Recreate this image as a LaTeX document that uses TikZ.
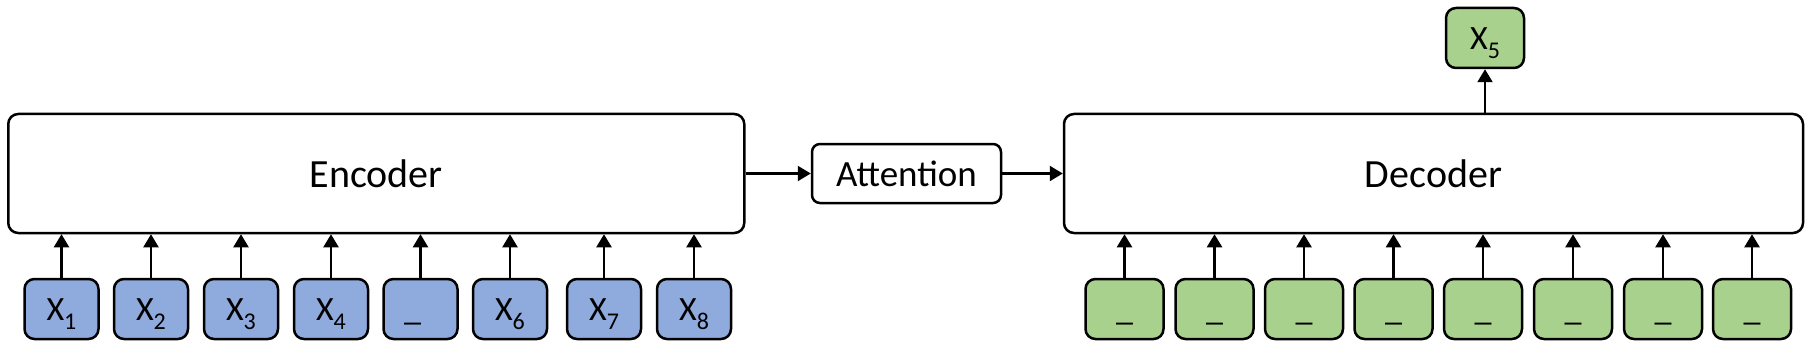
\documentclass[tikz,border=0pt]{standalone}
\usepackage{fontspec}
\setmainfont{Carlito}
\usetikzlibrary{arrows.meta}
\definecolor{inblue}{HTML}{8FAADC}
\definecolor{ingreen}{HTML}{A9D18E}
\newcommand{\xsub}[1]{X\raisebox{-9pt}{\fontsize{24}{24}\selectfont #1}}
\tikzset{
  bigbox/.style={draw=black, line width=2.5pt, rounded corners=10pt, fill=white, inner sep=0pt,
     font=\fontsize{40}{48}\selectfont},
  attbox/.style={draw=black, line width=2.5pt, rounded corners=8pt, fill=white, inner sep=0pt,
     minimum width=189pt, minimum height=59pt, font=\fontsize{37}{40}\selectfont},
  tokbox/.style={draw=black, line width=2.5pt, rounded corners=10pt, inner sep=0pt,
     minimum height=60pt, text height=23pt, text depth=0pt, font=\fontsize{34}{38}\selectfont},
  encin/.style={tokbox, fill=inblue, minimum width=74pt},
  decin/.style={tokbox, fill=ingreen, minimum width=78pt},
  arr/.style={line width=2.2pt, -{Triangle[width=15pt,length=13pt]}}
}
\begin{document}
\begin{tikzpicture}[x=1pt,y=-1pt]
\useasboundingbox (0,0) rectangle (1811,350);
% main blocks
\node[bigbox, minimum width=736pt, minimum height=119pt] (enc) at (376.25,173.5) {Encoder};
\node[attbox] (att) at (906.5,173.5) {Attention};
\node[bigbox, minimum width=739pt, minimum height=119pt] (dec) at (1433.5,173.5) {Decoder};
\node[decin] (out) at (1485,38) {\xsub{5}};
% encoder inputs
\node[encin] (e1) at (61.5,309) {\xsub{1}};
\node[encin] (e2) at (151,309) {\xsub{2}};
\node[encin] (e3) at (241,309) {\xsub{3}};
\node[encin] (e4) at (331,309) {\xsub{4}};
\node[encin] (e5) at (420.5,309) {\hspace*{-16pt}\_};
\node[encin] (e6) at (510,309) {\xsub{6}};
\node[encin] (e7) at (604,309) {\xsub{7}};
\node[encin] (e8) at (694,309) {\xsub{8}};
% decoder inputs
\node[decin] (d1) at (1124.5,309) {\_};
\node[decin] (d2) at (1214.5,309) {\_};
\node[decin] (d3) at (1304,309) {\_};
\node[decin] (d4) at (1393.5,309) {\_};
\node[decin] (d5) at (1483,309) {\_};
\node[decin] (d6) at (1573,309) {\_};
\node[decin] (d7) at (1663,309) {\_};
\node[decin] (d8) at (1752,309) {\_};
% arrows
\foreach \n in {e1,e2,e3,e4,e5,e6,e7,e8}{
  \draw[arr] (\n.north) -- (\n.north |- enc.south);
}
\foreach \n in {d1,d2,d3,d4,d5,d6,d7,d8}{
  \draw[arr] (\n.north) -- (\n.north |- dec.south);
}
\draw[arr] (enc.east) -- (att.west);
\draw[arr] (att.east) -- (dec.west);
\draw[arr] (out.south |- dec.north) -- (out.south);
\end{tikzpicture}
\end{document}
